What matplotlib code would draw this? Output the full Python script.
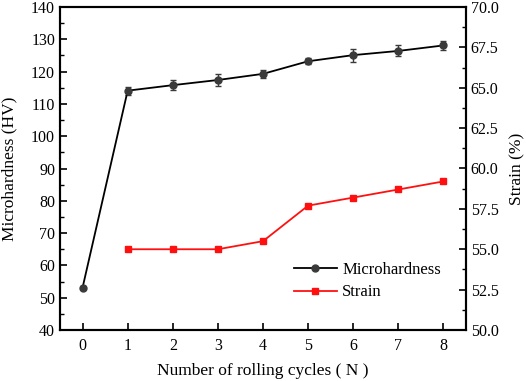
import numpy as np
import matplotlib.pyplot as plt
from matplotlib.ticker import MultipleLocator
from matplotlib.lines import Line2D

plt.rcParams['font.family'] = ['Liberation Serif', 'DejaVu Serif']

cycles = [0, 1, 2, 3, 4, 5, 6, 7, 8]
hardness = [53.1, 114.1, 115.8, 117.4, 119.3, 123.2, 125.1, 126.4, 128.1]
hardness_err = [0.5, 1.2, 1.5, 1.9, 1.3, 1.0, 2.0, 1.7, 1.5]

strain_cycles = [1, 2, 3, 4, 5, 6, 7, 8]
strain = [55.0, 55.0, 55.0, 55.5, 57.7, 58.2, 58.7, 59.2]

fig = plt.figure(figsize=(5.26, 3.81), dpi=100)
ax = fig.add_axes([60 / 526, 1 - 330 / 381, 406 / 526, 323 / 381])
ax2 = ax.twinx()

ax.errorbar(cycles, hardness, yerr=hardness_err, color='black', lw=1.3,
            marker='o', ms=5, mfc='#3a3a3a', mec='#3a3a3a',
            ecolor='#3a3a3a', elinewidth=1, capsize=2.5)
ax2.plot(strain_cycles, strain, color='#ff1010', lw=1.3, marker='s', ms=5)

ax.set_xlim(-0.5, 8.5)
ax.set_ylim(40, 140)
ax2.set_ylim(50, 70)
ax.set_xticks(cycles)
ax.yaxis.set_major_locator(MultipleLocator(10))
ax.yaxis.set_minor_locator(MultipleLocator(5))
ax2.yaxis.set_major_locator(MultipleLocator(2.5))
ax2.yaxis.set_minor_locator(MultipleLocator(1.25))
ax2.yaxis.set_major_formatter(plt.FormatStrFormatter('%.1f'))

for a in (ax, ax2):
    for s in a.spines.values():
        s.set_linewidth(1.5)
    a.tick_params(direction='in', which='major', length=5, width=1.2, labelsize=11.5)
    a.tick_params(direction='in', which='minor', length=3, width=1.0)
ax.tick_params(axis='x', pad=6)

ax.set_xlabel('Number of rolling cycles ( N )', fontsize=12.5, labelpad=6)
ax.set_ylabel('Microhardness (HV)', fontsize=12.5, labelpad=10)
ax2.set_ylabel('Strain (%)', fontsize=12.5, labelpad=8)

handles = [Line2D([], [], color='black', lw=1.3, marker='o', ms=5,
                  mfc='#3a3a3a', mec='#3a3a3a'),
           Line2D([], [], color='#ff1010', lw=1.3, marker='s', ms=5)]
ax.legend(handles, ['Microhardness', 'Strain'], loc='lower right',
          bbox_to_anchor=(0.975, 0.045), frameon=False, fontsize=12,
          handlelength=2.6, handletextpad=0.3, labelspacing=0.4)

fig.savefig('out.png', dpi=100)
